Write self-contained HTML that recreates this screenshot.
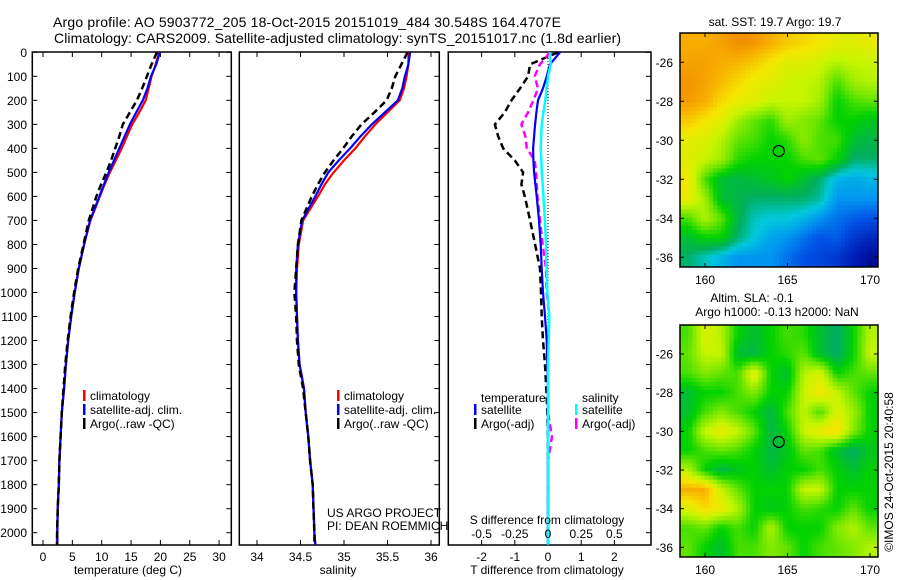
<!DOCTYPE html>
<html><head><meta charset="utf-8"><style>
body{margin:0;background:#fff}
svg{display:block;font-family:"Liberation Sans",sans-serif}
</style></head><body>
<svg id="fig" width="900" height="580" viewBox="0 0 900 580">
<rect width="900" height="580" fill="#fff"/>
<text x="53" y="27" font-size="14" textLength="508">Argo profile: AO 5903772_205 18-Oct-2015 20151019_484 30.548S 164.4707E</text>
<text x="54" y="43" font-size="14" textLength="567">Climatology: CARS2009. Satellite-adjusted climatology: synTS_20151017.nc (1.8d earlier)</text>
<g id="p1"></g>
<g id="p2"></g>
<g id="p3"></g>
<g id="m1"></g>
<g id="m2"></g>
<text transform="translate(893,472) rotate(-90)" font-size="12" text-anchor="middle">©IMOS 24-Oct-2015 20:40:58</text>
</svg>
<script>
const depths=[0,50,100,150,200,250,300,350,400,450,500,550,600,700,800,900,1000,1100,1200,1300,1400,1500,1600,1700,1800,1900,2000,2050];
const tempClim=[19.8,19.2,18.5,18.0,17.5,16.4,15.2,14.3,13.4,12.4,11.4,10.5,9.7,8.1,7.0,6.1,5.4,4.8,4.3,3.9,3.6,3.2,3.0,2.8,2.7,2.5,2.4,2.35];
const tempSat=[19.9,19.3,18.4,17.8,17.0,15.9,14.8,13.9,13.0,12.1,11.2,10.4,9.6,8.0,7.0,6.1,5.4,4.8,4.3,3.9,3.6,3.2,3.0,2.8,2.7,2.5,2.45,2.45];
const tempArgo=[19.4,18.5,17.7,16.9,16.0,14.8,13.6,13.0,12.3,11.6,10.8,9.9,9.1,7.8,6.9,6.0,5.3,4.7,4.2,3.8,3.5,3.2,3.0,2.8,2.7,2.5,2.4,2.4];
const salClim=[35.74,35.74,35.72,35.69,35.64,35.50,35.36,35.24,35.13,35.00,34.88,34.78,34.70,34.53,34.48,34.46,34.45,34.46,34.47,34.49,34.54,34.56,34.59,34.61,34.64,34.65,34.66,34.67];
const salSat=[35.76,35.74,35.70,35.67,35.62,35.47,35.32,35.19,35.07,34.94,34.82,34.74,34.67,34.52,34.47,34.45,34.45,34.46,34.47,34.49,34.54,34.56,34.59,34.61,34.64,34.65,34.66,34.67];
const salArgo=[35.73,35.66,35.59,35.55,35.49,35.35,35.20,35.09,34.99,34.88,34.78,34.70,34.63,34.51,34.47,34.45,34.43,34.45,34.46,34.48,34.53,34.56,34.59,34.61,34.64,34.65,34.66,34.66];
const dTsat=[0.36,0.06,-0.04,-0.15,-0.30,-0.35,-0.39,-0.42,-0.45,-0.44,-0.42,-0.38,-0.34,-0.27,-0.22,-0.19,-0.15,-0.09,-0.04,-0.02,0,0,0,0,0,0,0,0];
const dTargo=[0.3,-0.54,-0.6,-0.84,-1.1,-1.3,-1.6,-1.5,-1.35,-1.0,-0.75,-0.8,-0.7,-0.54,-0.39,-0.24,-0.21,-0.19,-0.15,-0.09,-0.05,-0.02,0,0,0,0,0,0];
const dSsat=[0.015,0.02,0,-0.01,-0.02,-0.035,-0.047,-0.052,-0.055,-0.05,-0.047,-0.04,-0.035,-0.023,-0.015,-0.01,-0.005,0.01,0.005,0,0,0,0,0,0,0,0,0];
const dSargo=[0.015,-0.06,-0.1,-0.075,-0.11,-0.15,-0.2,-0.17,-0.16,-0.1,-0.09,-0.085,-0.08,-0.06,-0.04,-0.015,-0.01,0.01,0,0,0,0,0.03,0,0,0,0,0];
const tempTicks=[0,5,10,15,20,25,30];
const salTicks=[34,34.5,35,35.5,36];
const tTicks=[-2,-1,0,1,2];
const sTicks=[-0.5,-0.25,0,0.25,0.5];
const sTickLabels=["-0.5","-0.25","0","0.25","0.5"];
const depthTicks=[0,100,200,300,400,500,600,700,800,900,1000,1100,1200,1300,1400,1500,1600,1700,1800,1900,2000];
const sstGrid=[
[0.88,0.88,0.9,0.93,0.92,0.88,0.84,0.82,0.8,0.77,0.76,0.78],
[0.9,0.9,0.88,0.87,0.84,0.8,0.76,0.76,0.73,0.7,0.72,0.72],
[0.92,0.9,0.86,0.82,0.78,0.76,0.73,0.72,0.7,0.6,0.68,0.7],
[0.91,0.88,0.82,0.78,0.76,0.72,0.72,0.72,0.68,0.55,0.6,0.62],
[0.84,0.8,0.76,0.68,0.62,0.58,0.68,0.65,0.62,0.55,0.55,0.52],
[0.77,0.75,0.7,0.62,0.6,0.55,0.58,0.66,0.6,0.6,0.5,0.48],
[0.76,0.72,0.68,0.58,0.55,0.55,0.55,0.6,0.62,0.55,0.45,0.45],
[0.8,0.6,0.5,0.48,0.5,0.52,0.55,0.5,0.45,0.35,0.33,0.35],
[0.78,0.68,0.5,0.48,0.45,0.45,0.45,0.45,0.42,0.3,0.3,0.3],
[0.6,0.7,0.62,0.48,0.4,0.38,0.38,0.35,0.3,0.25,0.22,0.2],
[0.5,0.55,0.55,0.45,0.38,0.32,0.3,0.25,0.2,0.22,0.15,0.12],
[0.45,0.4,0.35,0.3,0.3,0.3,0.25,0.2,0.18,0.15,0.1,0.05]];
const slaGrid=[
[0.6,0.75,0.7,0.55,0.5,0.55,0.6,0.58,0.5,0.45,0.55,0.7],
[0.62,0.72,0.72,0.5,0.48,0.55,0.58,0.62,0.5,0.45,0.55,0.72],
[0.6,0.65,0.62,0.6,0.78,0.55,0.5,0.7,0.75,0.55,0.6,0.62],
[0.5,0.55,0.55,0.6,0.65,0.55,0.55,0.72,0.8,0.72,0.62,0.55],
[0.5,0.6,0.65,0.6,0.55,0.48,0.6,0.72,0.6,0.75,0.68,0.55],
[0.55,0.72,0.78,0.72,0.62,0.48,0.55,0.72,0.78,0.82,0.65,0.55],
[0.55,0.6,0.62,0.6,0.55,0.48,0.52,0.62,0.6,0.5,0.45,0.52],
[0.7,0.55,0.48,0.52,0.55,0.5,0.55,0.55,0.6,0.55,0.5,0.55],
[0.88,0.88,0.72,0.62,0.55,0.55,0.55,0.72,0.72,0.55,0.55,0.55],
[0.75,0.82,0.78,0.7,0.55,0.52,0.55,0.6,0.58,0.55,0.62,0.55],
[0.6,0.62,0.55,0.6,0.55,0.7,0.55,0.55,0.55,0.65,0.7,0.62],
[0.62,0.55,0.5,0.6,0.6,0.65,0.62,0.55,0.6,0.62,0.65,0.7]];
const lonTicks=[160,165,170];
const latTicks=[-26,-28,-30,-32,-34,-36];
const argoLon=164.47, argoLat=-30.55;

const NS="http://www.w3.org/2000/svg";
function mk(parent,tag,attrs,txt){const e=document.createElementNS(NS,tag);for(const k in attrs)e.setAttribute(k,attrs[k]);if(txt!==undefined)e.textContent=txt;parent.appendChild(e);return e;}
const yD=d=>52.3+d*0.2402;
const xT=t=>43+t*5.87;
const xS=s=>257+(s-34)*87;
const xdT=t=>548+t*33.2;
const xdS=s=>548+s*132.8;
const PTOP=52,PBOT=545;

function frame(g,x0,x1,ticksX,fx,labels,ylab){
  const r=mk(g,'rect',{x:x0,y:PTOP,width:x1-x0,height:PBOT-PTOP,fill:'none',stroke:'#000','stroke-width':1.5});
  
  
  ticksX.forEach((t,i)=>{const x=fx(t);
    mk(g,'line',{x1:x,x2:x,y1:PBOT,y2:PBOT-5,stroke:'#000'});
    mk(g,'line',{x1:x,x2:x,y1:PTOP,y2:PTOP+5,stroke:'#000'});
    if(labels){const tx=mk(g,'text',{x:x,y:561,'font-size':12,'text-anchor':'middle'},labels[i]);
      
      }
  });
  depthTicks.forEach(d=>{const y=yD(d);
    if(ylab){mk(g,'line',{x1:x0,x2:x0+5,y1:y,y2:y,stroke:'#000'});
      const tx=mk(g,'text',{x:27,y:y+4.5,'font-size':12,'text-anchor':'end'},String(d));
      
      }
    mk(g,'line',{x1:x1,x2:x1-5,y1:y,y2:y,stroke:'#000'});
  });
}
function series(g,vals,fx,color,w,dash,name){
  const pts=vals.map((v,i)=>fx(v).toFixed(1)+','+yD(depths[i]).toFixed(1)).join(' ');
  const a={points:pts,fill:'none',stroke:color,'stroke-width':w};
  if(dash)a['stroke-dasharray']=dash;
  const p=mk(g,'polyline',a);
  
  
}
function legend(g,x,y,color,label,name){
  mk(g,'rect',{x:x,y:y-8,width:2.5,height:11,fill:color});
  const t=mk(g,'text',{x:x+7,y:y+2,'font-size':12},label);
  
  
}
const p1=document.getElementById('p1');
frame(p1,32.3,231.3,tempTicks,xT,tempTicks.map(String),true);
series(p1,tempClim,xT,'#f00',2.2,null,'temp-climatology-line');
series(p1,tempSat,xT,'#00f',2.2,null,'temp-satellite-line');
series(p1,tempArgo,xT,'#000',2.5,'7,4','temp-argo-line');
mk(p1,'text',{x:128,y:574,'font-size':12,'text-anchor':'middle'},'temperature (deg C)');
legend(p1,83,398,'#f00','climatology','legend-climatology');
legend(p1,83,412,'#00f','satellite-adj. clim.','legend-satellite');
legend(p1,83,426,'#000','Argo(..raw -QC)','legend-argo');
const p2=document.getElementById('p2');
frame(p2,239.3,439.3,salTicks,xS,salTicks.map(String),false);
series(p2,salClim,xS,'#f00',2.2,null,'sal-climatology-line');
series(p2,salSat,xS,'#00f',2.2,null,'sal-satellite-line');
series(p2,salArgo,xS,'#000',2.5,'7,4','sal-argo-line');
mk(p2,'text',{x:338,y:574,'font-size':12,'text-anchor':'middle'},'salinity');
legend(p2,337,398,'#f00','climatology','legend-climatology-2');
legend(p2,337,412,'#00f','satellite-adj. clim.','legend-satellite-2');
legend(p2,337,426,'#000','Argo(..raw -QC)','legend-argo-2');
mk(p2,'text',{x:327,y:517,'font-size':12},'US ARGO PROJECT');
mk(p2,'text',{x:327,y:530,'font-size':12},'PI: DEAN ROEMMICH');
const p3=document.getElementById('p3');
frame(p3,448.3,651,tTicks,xdT,tTicks.map(String),false);
mk(p3,'line',{x1:548,x2:548,y1:PTOP,y2:PBOT,stroke:'#000','stroke-dasharray':'1,2'});
series(p3,dTargo,xdT,'#000',2.5,'7,4','tdiff-argo-line');
series(p3,dSargo,xdS,'#f0f',2.5,'7,4','sdiff-argo-line');
series(p3,dTsat,xdT,'#00f',2.2,null,'tdiff-satellite-line');
series(p3,dSsat,xdS,'#0ff',2.5,null,'sdiff-satellite-line');
mk(p3,'text',{x:547,y:574,'font-size':12,'text-anchor':'middle'},'T difference from climatology');
mk(p3,'text',{x:547,y:524,'font-size':12,'text-anchor':'middle'},'S difference from climatology');
sTicks.forEach((s,i)=>{mk(p3,'text',{x:xdS(s),y:538,'font-size':12,'text-anchor':'middle'},sTickLabels[i]);});
mk(p3,'text',{x:481,y:402,'font-size':12},'temperature');
mk(p3,'text',{x:582,y:402,'font-size':12},'salinity');
legend(p3,474,412,'#00f','satellite','legend-t-satellite');
legend(p3,474,426,'#000','Argo(-adj)','legend-t-argo');
legend(p3,575,412,'#0ff','satellite','legend-s-satellite');
legend(p3,575,426,'#f0f','Argo(-adj)','legend-s-argo');

const cstops=[[0.0,[0,0,130]],[0.1,[0,30,180]],[0.2,[0,80,230]],[0.3,[0,150,240]],[0.38,[0,200,220]],[0.46,[0,175,90]],[0.55,[0,210,0]],[0.63,[110,230,0]],[0.72,[200,245,0]],[0.8,[245,230,0]],[0.87,[248,180,0]],[0.95,[240,130,0]],[1,[220,90,0]]];
function cmap(v){for(let i=1;i<cstops.length;i++){if(v<=cstops[i][0]){const a=cstops[i-1],b=cstops[i],t=(v-a[0])/(b[0]-a[0]);return 'rgb('+a[1].map((c,k)=>Math.round(c+(b[1][k]-c)*t)).join(',')+')';}}return 'rgb(220,90,0)';}
function drawMap(gid,grid,y0,y1,cell,title){
  const g=document.getElementById(gid);
  const x0=680,x1=878;
  const lonX=l=>705+(l-160)*16.5;
  const latTop=-24.5,latBot=-36.5;
  const latY=l=>y0+(latTop-l)/(latTop-latBot)*(y1-y0);
  const nx=Math.round((x1-x0)/cell),ny=Math.round((y1-y0)/cell);
  const cw=(x1-x0)/nx,ch=(y1-y0)/ny;
  for(let j=0;j<ny;j++)for(let i=0;i<nx;i++){
    const gx=(i+0.5)/nx*12-0.5,gy=(j+0.5)/ny*12-0.5;
    const ix=Math.max(0,Math.min(10,Math.floor(gx))),iy=Math.max(0,Math.min(10,Math.floor(gy)));
    const fx=Math.max(0,Math.min(1,gx-ix)),fy=Math.max(0,Math.min(1,gy-iy));
    const v=grid[iy][ix]*(1-fx)*(1-fy)+grid[iy][ix+1]*fx*(1-fy)+grid[iy+1][ix]*(1-fx)*fy+grid[iy+1][ix+1]*fx*fy;
    mk(g,'rect',{x:(x0+i*cw).toFixed(2),y:(y0+j*ch).toFixed(2),width:(cw+0.4).toFixed(2),height:(ch+0.4).toFixed(2),fill:cmap(v)});
  }
  const fr=mk(g,'rect',{x:x0,y:y0,width:x1-x0,height:y1-y0,fill:'none',stroke:'#000','stroke-width':1.5});
  
  
  lonTicks.forEach(l=>{const x=lonX(l);
    mk(g,'line',{x1:x,x2:x,y1:y1,y2:y1-4,stroke:'#000'});mk(g,'line',{x1:x,x2:x,y1:y0,y2:y0+4,stroke:'#000'});
    mk(g,'text',{x:x,y:y1+17,'font-size':12,'text-anchor':'middle'},String(l));});
  latTicks.forEach(l=>{const y=latY(l);
    mk(g,'line',{x1:x0,x2:x0+4,y1:y,y2:y,stroke:'#000'});mk(g,'line',{x1:x1,x2:x1-4,y1:y,y2:y,stroke:'#000'});
    mk(g,'text',{x:673,y:y+4.5,'font-size':12,'text-anchor':'end'},String(l));});
  const c=mk(g,'circle',{cx:lonX(argoLon),cy:latY(argoLat),r:5.5,fill:'none',stroke:'#000','stroke-width':1.2});
  
  
  title.forEach(t=>{mk(g,'text',{x:t[0],y:t[1],'font-size':12,'text-anchor':'middle'},t[2]);});
}
drawMap('m1',sstGrid,33,267,4.1,[[775,26,'sat. SST: 19.7 Argo: 19.7']]);
drawMap('m2',slaGrid,325,557,4.1,[[752,302,'Altim. SLA: -0.1'],[777,316,'Argo h1000: -0.13 h2000: NaN']]);
</script>
</body></html>
